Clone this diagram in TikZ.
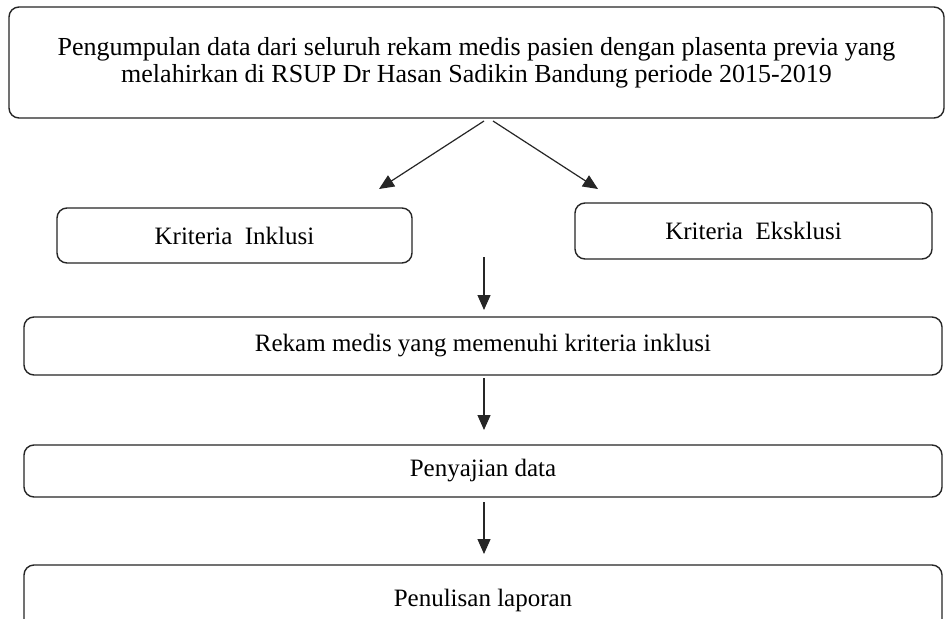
\documentclass[tikz,border=0pt]{standalone}
\usepackage{fontspec}
\setmainfont{Liberation Serif}
\usetikzlibrary{arrows.meta}
\begin{document}
\begin{tikzpicture}[x=1pt,y=-1pt,
  box/.style={draw=black!85, line width=1.4pt, rounded corners=10pt, inner sep=0pt,
              font=\fontsize{25}{27}\selectfont, align=center},
  arr/.style={draw=black!85, line width=1.2pt, -{Triangle[length=15pt,width=13pt]}}]
\useasboundingbox (0,0) rectangle (949,618);
\fill[white] (0,0) rectangle (949,618);
\node[box, minimum width=935pt, minimum height=111pt, font=\fontsize{26}{27}\selectfont] (top) at (476.5,62.5)
  {Pengumpulan data dari seluruh rekam medis pasien dengan plasenta previa yang\\
   melahirkan di RSUP Dr Hasan Sadikin Bandung periode 2015-2019};
\node[box, minimum width=355pt, minimum height=55pt] (inc) at (234.5,235.5) {Kriteria~ Inklusi};
\node[box, minimum width=357pt, minimum height=56pt] (exc) at (753.5,231) {Kriteria~ Eksklusi};
\node[box, minimum width=918pt, minimum height=58pt] (rek) at (483,346) {Rekam medis yang memenuhi kriteria inklusi};
\node[box, minimum width=918pt, minimum height=52pt] (pen) at (483,471) {Penyajian data};
\begin{scope}
  \clip (0,0) rectangle (949,618);
  \node[box, minimum width=918pt, minimum height=70pt] (lap) at (483,600) {Penulisan laporan};
\end{scope}
\coordinate (s1) at (484,121);
\coordinate (e1) at (379,189);
\coordinate (s2) at (493,121);
\coordinate (e2) at (598,189);
\coordinate (s3) at (484,257);
\coordinate (e3) at (484,310);
\coordinate (s4) at (484,378);
\coordinate (e4) at (484,430);
\coordinate (s5) at (484,502);
\coordinate (e5) at (484,554);
\draw[arr] (s1) -- (e1);
\draw[arr] (s2) -- (e2);
\draw[arr] (s3) -- (e3);
\draw[arr] (s4) -- (e4);
\draw[arr] (s5) -- (e5);
\end{tikzpicture}
\end{document}
